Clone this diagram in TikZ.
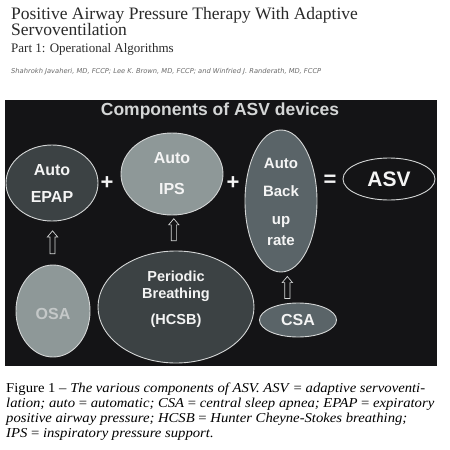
\documentclass[tikz,border=0pt]{standalone}
\usepackage{fontspec}
\setmainfont{Liberation Serif}
\setsansfont{Liberation Sans}
\newfontfamily\authfont{DejaVu Sans}
\newfontfamily\capfont[FakeStretch=1.08,Ligatures=TeX]{Liberation Serif}
\usetikzlibrary{shapes.geometric,shapes.arrows,calc}
\definecolor{bgdark}{HTML}{141416}
\definecolor{fillA}{HTML}{3C4244}
\definecolor{fillB}{HTML}{8E9898}
\definecolor{fillC}{HTML}{5A6468}
\definecolor{rimc}{HTML}{D4D6D6}
\definecolor{txtc}{HTML}{F4F4F4}
\definecolor{osatxt}{HTML}{C4C8C8}
\definecolor{headc}{HTML}{2A2A2A}
\definecolor{authc}{HTML}{6A6A6A}
\begin{document}
\begin{tikzpicture}[x=1pt,y=-1pt,
  comp/.style={ellipse,draw=rimc,line width=0.9pt,inner sep=0pt,text=txtc,
    font=\sffamily\bfseries\fontsize{16}{27}\selectfont,align=center},
  lbl/.style={text=txtc,inner sep=0pt,align=center,font=\sffamily\bfseries\fontsize{16}{27}\selectfont},
  uparrow/.style={single arrow,draw=rimc,fill=bgdark,line width=0.7pt,
    rotate=90,inner sep=2.2pt,minimum width=0pt,single arrow head extend=2.6pt,
    single arrow tip angle=80},
  opsign/.style={text=txtc,font=\sffamily\bfseries\fontsize{22}{22}\selectfont,inner sep=0pt},
  headtxt/.style={anchor=base west,inner sep=0pt,text=headc},
  captxt/.style={anchor=base west,inner sep=0pt,text=black,font=\capfont\fontsize{13.6}{15}\selectfont}
]
\useasboundingbox[fill=white] (0,0) rectangle (450,450);
% header
\node[headtxt,font=\rmfamily\fontsize{17.5}{20}\selectfont] (h1) at (11,19) {Positive Airway Pressure Therapy With Adaptive};
\node[headtxt,font=\rmfamily\fontsize{17.5}{20}\selectfont] (h2) at (11,35.5) {Servoventilation};
\node[headtxt,font=\rmfamily\fontsize{13}{15}\selectfont] (h3) at (11,52) {Part 1: Operational Algorithms};
\node[headtxt,text=authc,font=\authfont\itshape\fontsize{6.7}{8}\selectfont] (h4) at (11,73) {Shahrokh Javaheri, MD, FCCP; Lee K. Brown, MD, FCCP; and Winfried J. Randerath, MD, FCCP};
% panel
\fill[bgdark] (5,100) rectangle (437,366);
\node[text=rimc,font=\sffamily\bfseries\fontsize{17.5}{20}\selectfont,inner sep=0pt] (ttl) at (220,111) {Components of ASV devices};
% top row
\node[comp,fill=fillA,minimum width=92pt,minimum height=76pt] (epap) at (52,183) {Auto\\EPAP};
\node[comp,fill=fillB,minimum width=102pt,minimum height=82pt] (ips) at (172,174) {Auto\\[4pt]IPS};
\node[comp,fill=fillC,minimum width=72pt,minimum height=142pt] (back) at (281,201) {};
\node[lbl,font=\sffamily\bfseries\fontsize{15}{28}\selectfont] (backt) at ([yshift=-0.5pt]back.center) {Auto\\Back\\up\\[-7pt]rate};
\node[comp,fill=bgdark,minimum width=92pt,minimum height=42pt,font=\sffamily\bfseries\fontsize{21}{22}\selectfont] (asv) at (389,179) {ASV};
\node[opsign] (plus1) at (107,183) {+};
\node[opsign] (plus2) at (233,183) {+};
\node[opsign] (eq) at (330,181) {=};
% bottom row
\node[comp,fill=fillB,text=osatxt,minimum width=74pt,minimum height=92pt] (osa) at (53,311) {};
\node[lbl,text=osatxt] (osat) at ([yshift=-3pt]osa.center) {OSA};
\node[comp,fill=fillA,minimum width=156pt,minimum height=112pt] (pb) at (176,307) {};
\node[lbl,font=\sffamily\bfseries\fontsize{14.5}{17}\selectfont] (pbt) at ([yshift=8pt]pb.center) {Periodic\\Breathing\\[9pt](HCSB)};
\node[comp,fill=fillC,minimum width=77pt,minimum height=34pt] (csa) at (298,320) {CSA};
% arrows
\node[uparrow,minimum height=23pt] (a1) at ($(epap.south)!0.52!(osa.north)$) {};
\node[uparrow,minimum height=22pt] (a2) at ($(ips.south)!0.45!(pb.north)$) {};
\node[uparrow,minimum height=22pt] (a3) at ([xshift=-3pt]$(back.south)!0.55!(csa.north)$) {};
% caption
\node[captxt] (c1) at (6,392) {Figure 1 – \textit{The various components of ASV. ASV} = \textit{adaptive servoventi-}};
\node[captxt] (c2) at (6,407) {\textit{lation; auto} = \textit{automatic; CSA} = \textit{central sleep apnea; EPAP} = \textit{expiratory}};
\node[captxt] (c3) at (6,422) {\textit{positive airway pressure; HCSB} = \textit{Hunter Cheyne-Stokes breathing;}};
\node[captxt] (c4) at (6,437) {\textit{IPS} = \textit{inspiratory pressure support.}};
\end{tikzpicture}
\end{document}
